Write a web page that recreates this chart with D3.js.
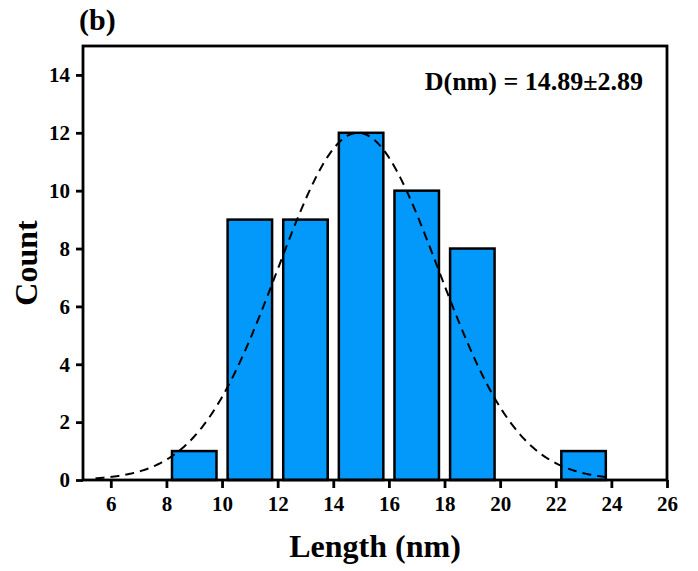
<!DOCTYPE html>
<html>
<head>
<meta charset="utf-8">
<script src="https://cdn.jsdelivr.net/npm/d3@7"></script>
<style>
  html, body { margin: 0; padding: 0; background: #fff; }
  svg { display: block; }
  text { font-family: "Liberation Serif", "Times New Roman", serif; font-weight: bold; fill: #000; }
</style>
</head>
<body>
<svg id="chart" width="698" height="571"></svg>
<script>
// Histogram of particle lengths (bin width 2 nm) with a normal fit
const binCenters = [9, 11, 13, 15, 17, 19, 21, 23];
const counts     = [1, 9, 9, 12, 10, 8, 0, 1];
const xTicks = [6, 8, 10, 12, 14, 16, 18, 20, 22, 24, 26];
const yTicks = [0, 2, 4, 6, 8, 10, 12, 14];

// fitted Gaussian: mean and standard deviation from the annotation, peak height
const fitMean = 14.89;
const fitSd = 2.89;
const fitPeak = 12;
const fitRange = [5.45, 24];

const barWidth = 1.6;

const svg = d3.select("#chart");
const margin = { left: 83, right: 31, top: 46, bottom: 91 };
const W = 698, H = 571;

const x = d3.scaleLinear().domain([5, 26]).range([margin.left, W - margin.right]);
const y = d3.scaleLinear().domain([0, 15]).range([H - margin.bottom, margin.top]);

const bars = binCenters.map((c, i) => ({ c, v: counts[i] })).filter(d => d.v > 0);

svg.append("g").selectAll("rect").data(bars).join("rect")
  .attr("x", d => x(d.c - barWidth / 2))
  .attr("y", d => y(d.v))
  .attr("width", d => x(d.c + barWidth / 2) - x(d.c - barWidth / 2))
  .attr("height", d => y(0) - y(d.v))
  .attr("fill", "#0399fb")
  .attr("stroke", "#000")
  .attr("stroke-width", 2.5);

// normal fit curve
const fitPts = d3.range(fitRange[0], fitRange[1] + 0.001, 0.05).map(t => [t, fitPeak * Math.exp(-0.5 * ((t - fitMean) / fitSd) ** 2)]);
svg.append("path")
  .datum(fitPts)
  .attr("d", d3.line().x(d => x(d[0])).y(d => y(d[1])).curve(d3.curveBasis))
  .attr("fill", "none")
  .attr("stroke", "#000")
  .attr("stroke-width", 2)
  .attr("stroke-dasharray", "9,6");

// frame
svg.append("rect")
  .attr("x", x(5)).attr("y", y(15))
  .attr("width", x(26) - x(5)).attr("height", y(0) - y(15))
  .attr("fill", "none").attr("stroke", "#000").attr("stroke-width", 2.8);

// axes
const xAxis = svg.append("g")
  .attr("transform", `translate(0,${y(0)})`)
  .call(d3.axisBottom(x).tickValues(xTicks).tickSize(8).tickPadding(8).tickFormat(d3.format("d")));
const yAxis = svg.append("g")
  .attr("transform", `translate(${x(5)},0)`)
  .call(d3.axisLeft(y).tickValues(yTicks).tickSize(7).tickPadding(6).tickFormat(d3.format("d")));

[xAxis, yAxis].forEach(g => {
  g.select(".domain").remove();
  g.selectAll(".tick line").attr("stroke", "#000").attr("stroke-width", 2.8);
  g.selectAll(".tick text")
    .style("font-family", "'Liberation Serif', 'Times New Roman', serif")
    .style("font-weight", "bold")
    .style("font-size", "21px")
    .attr("fill", "#000");
});

// axis titles
svg.append("text")
  .attr("x", (x(5) + x(26)) / 2).attr("y", 557)
  .attr("text-anchor", "middle")
  .style("font-size", "32px")
  .text("Length (nm)");

svg.append("text")
  .attr("transform", `translate(37,${(y(0) + y(15)) / 2}) rotate(-90)`)
  .attr("text-anchor", "middle")
  .style("font-size", "32px")
  .text("Count");

// panel label
svg.append("text")
  .attr("x", 79).attr("y", 30)
  .style("font-size", "30px")
  .text("(b)");

// fit annotation
svg.append("text")
  .attr("x", 643).attr("y", 90)
  .attr("text-anchor", "end")
  .style("font-size", "26px")
  .text(`D(nm) = ${fitMean}±${fitSd}`);
</script>
</body>
</html>
